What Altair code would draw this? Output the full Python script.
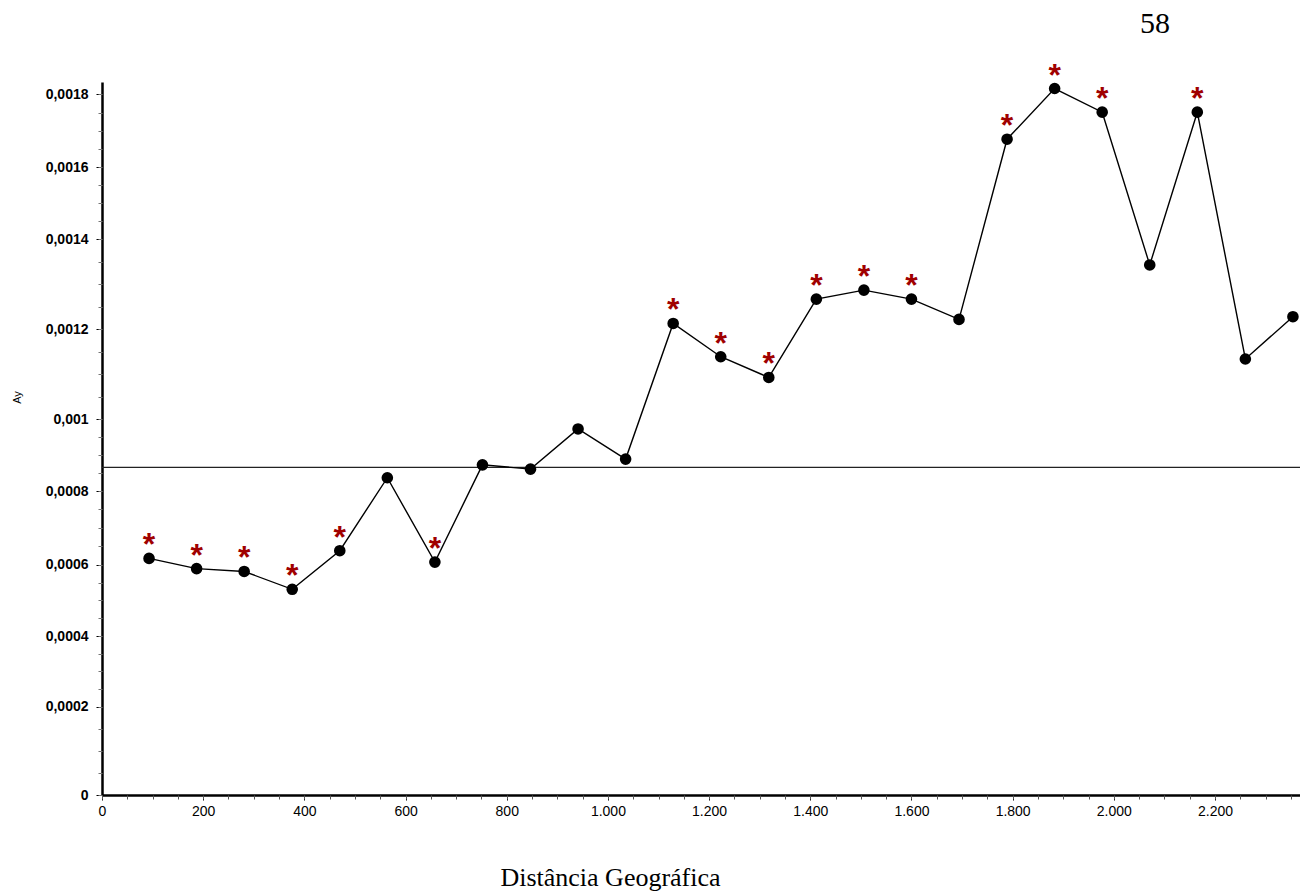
import altair as alt
import pandas as pd

# distance classes (x) and Ay values
dist = [93, 187, 281, 376, 470, 564, 658, 752, 847, 941, 1035, 1129, 1223,
        1318, 1412, 1506, 1600, 1694, 1789, 1883, 1977, 2071, 2165, 2260, 2354]
ay = [0.000617, 0.000589, 0.000581, 0.000531, 0.000638, 0.000837, 0.000607,
      0.000873, 0.000861, 0.000973, 0.000889, 0.001213, 0.001139, 0.001093,
      0.001267, 0.001287, 0.001267, 0.001222, 0.001677, 0.001816, 0.001751,
      0.001343, 0.001751, 0.001134, 0.001228]
# 1 = significant (marked with a red asterisk)
signif = [1, 1, 1, 1, 1, 0, 1, 0, 0, 0, 0, 1, 1, 1, 1, 1, 1, 0, 1, 1, 1, 0, 1, 0, 0]
mean_ay = 0.000866
page_label = ["58"]

x_ticks = [0, 200, 400, 600, 800, 1000, 1200, 1400, 1600, 1800, 2000, 2200]
y_ticks = [0, 0.0002, 0.0004, 0.0006, 0.0008, 0.001, 0.0012, 0.0014, 0.0016, 0.0018]

df = pd.DataFrame({"dist": dist, "ay": ay, "sig": signif})
mean_df = pd.DataFrame({"m": [mean_ay]})
page_df = pd.DataFrame({"t": page_label})

W, H = 1198, 713
x_scale = alt.Scale(domain=[0, 2368], nice=False, zero=False)
# the printed axis is not evenly spaced; follow its label positions piecewise
y_scale = alt.Scale(
    domain=y_ticks + [0.001834],
    range=[713, 624.7, 554, 482.7, 409, 337.3, 247.3, 157.3, 85.3, 12.3, 0],
    nice=False, zero=False)

x_minor = [v * 50 for v in range(0, 48)]
y_minor = [round(v * 0.00005, 6) for v in range(0, 37)]

major_x = alt.Axis(
    values=x_ticks, orient="bottom", grid=False, labelFlush=False,
    labelExpr="replace(format(datum.value, ','), ',', '.')",
    labelFont="Liberation Sans", labelFontSize=14, labelColor="black",
    labelPadding=4, tickColor="black", tickSize=5, tickWidth=1,
    domainColor="black", domainWidth=2.5,
    title="Distância Geográfica", titleFont="Liberation Serif",
    titleFontSize=26, titleFontWeight="normal", titleColor="black",
    titleX=508, titleY=90, titleAlign="center", titleBaseline="alphabetic")
minor_x = alt.Axis(values=x_minor, orient="bottom", grid=False, labels=False,
                   domain=False, tickColor="#555555", tickSize=4, tickWidth=1,
                   title="")
major_y = alt.Axis(
    values=y_ticks, orient="left", grid=False, labelOverlap=False,
    labelExpr="replace(format(datum.value, '.4~f'), '.', ',')",
    labelFont="Liberation Sans", labelFontSize=14, labelFontWeight="bold",
    labelColor="black", labelPadding=8, tickColor="black", tickSize=6,
    tickWidth=1, domainColor="black", domainWidth=2.5,
    title="Ay", titleFont="Liberation Sans", titleFontSize=11,
    titleFontWeight="normal", titleColor="black", titleAngle=270,
    titleX=-85, titleY=315, titleAlign="center", titleBaseline="middle")
minor_y = alt.Axis(values=y_minor, orient="left", grid=False, labels=False,
                   domain=False, tickColor="#777777", tickSize=4, tickWidth=1,
                   title="")

base = alt.Chart(df)

line = base.mark_line(color="black", strokeWidth=1.4).encode(
    x=alt.X("dist:Q", scale=x_scale, axis=major_x),
    y=alt.Y("ay:Q", scale=y_scale, axis=major_y))

points = base.mark_circle(size=135, color="black", opacity=1).encode(
    x=alt.X("dist:Q", scale=x_scale, axis=minor_x),
    y=alt.Y("ay:Q", scale=y_scale, axis=minor_y))

stars = base.transform_filter("datum.sig == 1").mark_text(
    text="*", color="#A00000", font="Liberation Sans", fontSize=32,
    fontWeight="bold", align="center", baseline="middle", dy=-13).encode(
    x=alt.X("dist:Q", scale=x_scale, axis=None),
    y=alt.Y("ay:Q", scale=y_scale, axis=None))

rule = alt.Chart(mean_df).mark_rule(color="#222222", strokeWidth=1.3).encode(
    x=alt.value(0), x2=alt.value(W),
    y=alt.Y("m:Q", scale=y_scale, axis=None))

# page number printed above the figure
page = alt.Chart(page_df).mark_text(
    font="Liberation Serif", fontSize=30, color="black", align="center",
    baseline="alphabetic").encode(
    text="t:N", x=alt.value(1053), y=alt.value(-49))

chart = alt.layer(rule, line, points, stars, page).resolve_axis(
    x="independent", y="independent"
).properties(
    width=W, height=H,
    background="white",
    autosize=alt.AutoSizeParams(type="none"),
    padding={"left": 94, "top": 74, "right": 0, "bottom": 96},
).configure_view(stroke=None).configure_axis(gridOpacity=0)

chart.save("out.html", embed_options={"renderer": "svg", "actions": False})
